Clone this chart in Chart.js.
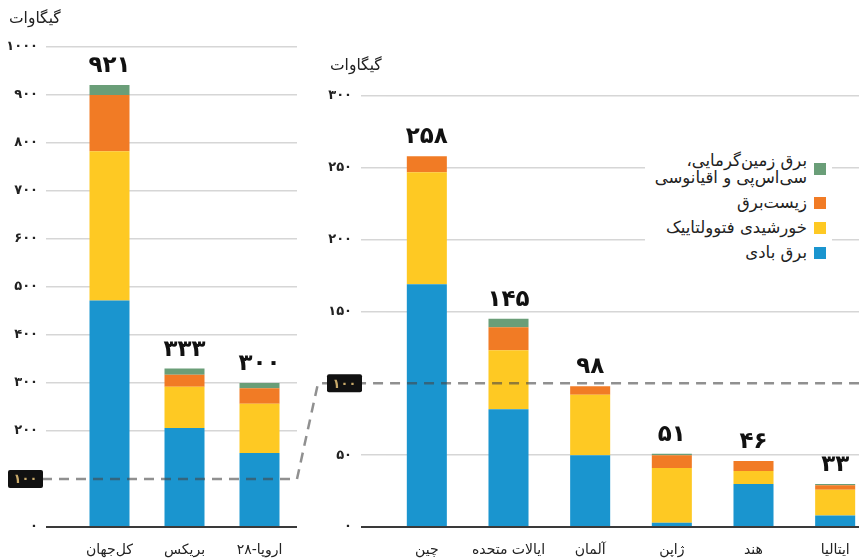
<!DOCTYPE html>
<html lang="fa">
<head>
<meta charset="utf-8">
<script src="https://cdn.jsdelivr.net/npm/chart.js@4.4.1/dist/chart.umd.min.js"></script>
<style>
html, body { margin: 0; padding: 0; background: #fff; overflow: hidden; }
body { width: 859px; height: 560px; position: relative; font-family: 'DejaVu Sans', sans-serif; }
#leftChart { position: absolute; left: 0; top: 0; }
#rightChart { position: absolute; left: 310px; top: 0; }
#overlay { position: absolute; left: 0; top: 0; pointer-events: none; }
.unit { position: absolute; font-size: 15.5px; color: #222; direction: rtl; line-height: 18px; }
#legend { position: absolute; right: 27px; top: 150px; background: #fff; padding: 2px 6px 4px 10px; direction: rtl; }
.item { display: flex; align-items: center; margin-bottom: 8px; font-size: 16.5px; line-height: 17px; color: #222; }
.item .sw { width: 12px; height: 12px; margin-left: 7px; flex: none; }
</style>
</head>
<body>
<canvas id="leftChart" width="310" height="560"></canvas>
<canvas id="rightChart" width="575" height="560"></canvas>
<canvas id="overlay" width="859" height="560"></canvas>
<div class="unit" style="left:9px; top:9px;">گیگاوات</div>
<div class="unit" style="left:330px; top:56px;">گیگاوات</div>
<div id="legend"></div>
<script>
// داده‌ها
const leftCategories = ['کل‌جهان', 'بریکس', 'اروپا-۲۸'];
const leftWind = [472, 206, 154];
const leftSolar = [311, 86, 103];
const leftBio = [117, 25, 32];
const leftGeo = [21, 13, 11];
const leftTotals = [921, 333, 300];
const leftTicks = [0, 100, 200, 300, 400, 500, 600, 700, 800, 900, 1000];

const rightCategories = ['چین', 'ایالات متحده', 'آلمان', 'ژاپن', 'هند', 'ایتالیا'];
const rightWind = [169, 82, 50, 3, 30, 8];
const rightSolar = [78, 41, 42, 38, 9, 18];
const rightBio = [11, 16, 6, 9, 7, 3];
const rightGeo = [0, 6, 0, 1, 0, 1];
const rightTotals = [258, 145, 98, 51, 46, 33];
const rightTicks = [0, 50, 100, 150, 200, 250, 300];

const seriesNames = ['برق بادی', 'خورشیدی فتوولتاییک', 'زیست‌برق', 'برق زمین‌گرمایی،<br>سی‌اس‌پی و اقیانوسی'];
const seriesColors = ['#1a95cf', '#fec923', '#f17b25', '#6a9e78'];

const zoomValue = 100;

function fa(n) {
    return String(n).replace(/\d/g, d => '۰۱۲۳۴۵۶۷۸۹'[d]);
}

const totalsPlugin = {
    id: 'totals',
    afterDatasetsDraw(chart, args, opts) {
        let ctx = chart.ctx;
        ctx.save();
        ctx.font = 'bold 23px "DejaVu Sans"';
        ctx.fillStyle = '#111';
        ctx.textAlign = 'center';
        ctx.textBaseline = 'middle';
        let metas = chart.data.datasets.map((d, i) => chart.getDatasetMeta(i));
        metas[0].data.forEach((bar, i) => {
            let top = Math.min(...metas.map(m => m.data[i].y));
            ctx.fillText(fa(opts.values[i]), bar.x, top - 19);
        });
        ctx.restore();
    }
};

function makeDatasets(values, barPct) {
    return values.map((v, i) => ({
        label: seriesNames[i],
        data: v,
        backgroundColor: seriesColors[i],
        borderWidth: 0,
        barPercentage: barPct,
        categoryPercentage: 1
    }));
}

function gridColor(c) {
    if (c.tick.value === zoomValue) return 'rgba(0,0,0,0)';
    if (c.tick.value === 0) return '#3a3a3a';
    return '#d6d6d6';
}

function makeOptions(ticks, max, axisWidth, tickLen, pad, padTop, padRight, totals) {
    return {
        responsive: false,
        animation: false,
        layout: { padding: { top: padTop, right: padRight, bottom: 0, left: 0 } },
        plugins: {
            legend: { display: false },
            tooltip: { enabled: false },
            totals: { values: totals }
        },
        scales: {
            x: {
                stacked: true,
                afterFit: s => { s.height = 33; },
                grid: { display: false, drawTicks: false },
                border: { display: false },
                ticks: {
                    color: '#222',
                    font: { family: 'DejaVu Sans', size: 14 },
                    padding: 15,
                    maxRotation: 0,
                    autoSkip: false
                }
            },
            y: {
                stacked: true,
                min: 0,
                max: max,
                afterBuildTicks: s => { s.ticks = ticks.map(v => ({ value: v })); },
                afterFit: s => { s.width = axisWidth; },
                grid: {
                    color: gridColor,
                    tickColor: gridColor,
                    lineWidth: c => c.tick.value === 0 ? 2 : 1.5,
                    tickWidth: c => c.tick.value === 0 ? 2 : 1.5,
                    tickLength: tickLen
                },
                border: { display: false },
                ticks: {
                    callback: v => v === zoomValue ? '' : fa(v),
                    padding: pad,
                    color: '#222',
                    font: { family: 'DejaVu Sans', size: 13, weight: 'bold' }
                }
            }
        }
    };
}

let chartL = new Chart(document.getElementById('leftChart'), {
    type: 'bar',
    data: {
        labels: leftCategories,
        datasets: makeDatasets([leftWind, leftSolar, leftBio, leftGeo], 40 / 75)
    },
    options: makeOptions(leftTicks, 1000, 72, 26, 8, 47, 13, leftTotals),
    plugins: [totalsPlugin]
});

let chartR = new Chart(document.getElementById('rightChart'), {
    type: 'bar',
    data: {
        labels: rightCategories,
        datasets: makeDatasets([rightWind, rightSolar, rightBio, rightGeo], 40 / 81.6)
    },
    options: makeOptions(rightTicks, 300, 76, 25, 9, 96, 9, rightTotals),
    plugins: [totalsPlugin]
});

// legend
let legend = document.getElementById('legend');
for (let i = seriesNames.length - 1; i >= 0; i--) {
    let item = document.createElement('div');
    item.className = 'item';
    item.innerHTML = '<span class="sw" style="background:' + seriesColors[i] + '"></span><span>' + seriesNames[i] + '</span>';
    legend.appendChild(item);
}

// dashed zoom connector
function drawConnector() {
    let ov = document.getElementById('overlay').getContext('2d');
    let offR = 310;
    let yL = chartL.scales.y.getPixelForValue(zoomValue);
    let yR = chartR.scales.y.getPixelForValue(zoomValue);
    let xL = chartL.chartArea.right;
    ov.save();
    ov.strokeStyle = 'rgba(70,70,70,0.6)';
    ov.lineWidth = 2.5;
    ov.setLineDash([10, 7]);
    ov.lineJoin = 'round';
    ov.beginPath();
    ov.moveTo(8, yL);
    ov.lineTo(xL, yL);
    ov.lineTo(xL + 21, yR);
    ov.lineTo(859, yR);
    ov.stroke();
    ov.restore();

    let boxes = [[8, yL], [offR + 17, yR]];
    boxes.forEach(b => {
        ov.save();
        ov.fillStyle = '#111';
        ov.beginPath();
        ov.roundRect(b[0], b[1] - 9, 35, 18, 2);
        ov.fill();
        ov.fillStyle = '#c9aa6a';
        ov.font = 'bold 13px "DejaVu Sans"';
        ov.textAlign = 'center';
        ov.textBaseline = 'middle';
        ov.fillText(fa(zoomValue), b[0] + 17.5, b[1] + 1);
        ov.restore();
    });
}
drawConnector();
</script>
</body>
</html>
